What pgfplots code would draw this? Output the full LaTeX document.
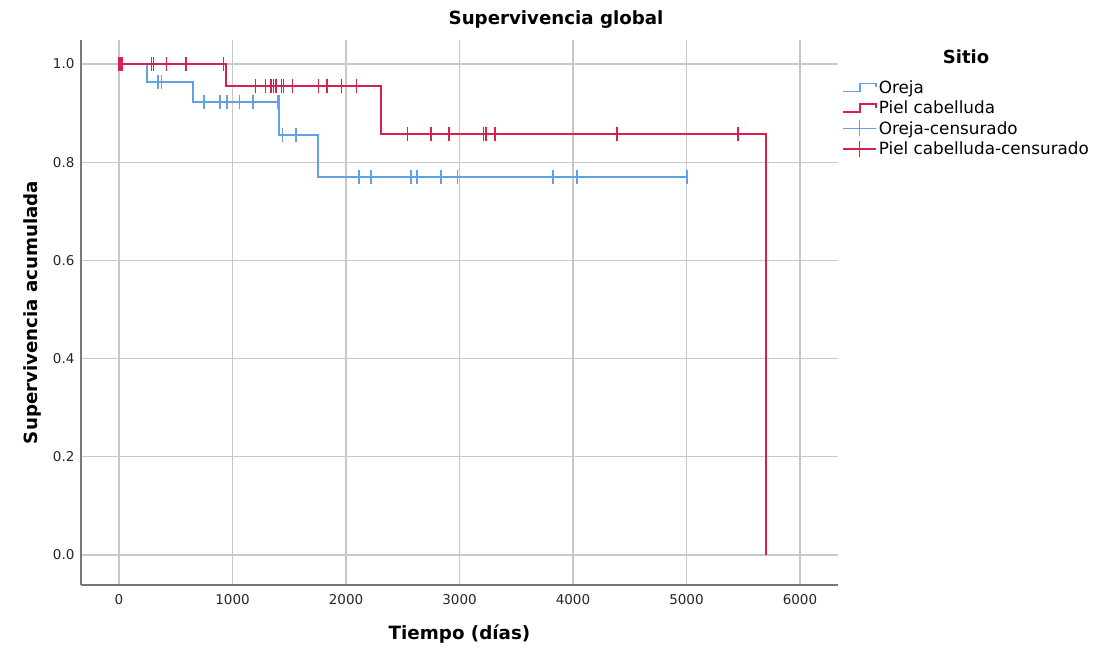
\documentclass[border=0pt]{standalone}
\usepackage{fontspec}
\setmainfont{DejaVu Sans}
\usepackage{pgfplots}
\pgfplotsset{compat=1.18}
\definecolor{oreja}{RGB}{100,160,228}
\definecolor{piel}{RGB}{216,34,76}
\definecolor{gridc}{RGB}{200,200,200}
\definecolor{axc}{RGB}{120,120,120}
\pgfplotsset{
  steplegend/.style={legend image code/.code={\draw[##1] (0pt,-4pt) -- (17pt,-4pt) -- (17pt,4pt) -- (33pt,4pt) -- (33pt,0pt);}},
  censlegend/.style={legend image code/.code={\draw[color=#1, line width=1.8pt] (0pt,0pt) -- (33pt,0pt); \draw[color=#1, line width=1.6pt] (16.5pt,-8pt) -- (16.5pt,8pt);}},
}
\begin{document}
\begin{tikzpicture}[x=1pt,y=1pt]
\path[use as bounding box] (0,0) rectangle (1099,650);
\begin{axis}[
  at={(81pt,65pt)}, anchor=south west,
  scale only axis, width=757pt, height=545pt,
  xmin=-335, xmax=6335, ymin=-0.0611, ymax=1.0489,
  axis x line*=bottom, axis y line*=left,
  axis line style={-, draw=axc, line width=1.4pt},
  xtick={0,1000,2000,3000,4000,5000,6000},
  ytick={0,0.2,0.4,0.6,0.8,1.0},
  major tick length=0pt,
  grid=major,
  major grid style={draw=gridc, line width=1.3pt},
  /pgf/number format/assume math mode=true,
  xticklabel style={font=\fontsize{13.5}{16}\selectfont, text=black!85, yshift=-6pt},
  yticklabel style={font=\fontsize{13.5}{16}\selectfont, text=black!85, xshift=-3pt,
     /pgf/number format/.cd, fixed, fixed zerofill, precision=1},
  x tick label style={/pgf/number format/.cd, 1000 sep={}},
  xlabel={Tiempo (días)},
  ylabel={Supervivencia acumulada},
  xlabel style={font=\bfseries\fontsize{18.3}{21}\selectfont, at={(axis description cs:0.5,-0.09)}, anchor=center},
  ylabel style={font=\bfseries\fontsize{18.2}{21}\selectfont, at={(axis description cs:-0.0647,0.5)}, anchor=center},
  legend style={at={(axis description cs:1.005,0.930)}, anchor=north west,
     draw=none, fill=none, font=\fontsize{16.8}{20}\selectfont,
     row sep=2.2pt, inner sep=0pt, cells={anchor=west}},
  legend cell align=left,
  clip=false,
]
% step curves
\addplot[const plot, color=oreja, line width=1.8pt, mark=none, steplegend]
  coordinates {(0,1) (244,0.963) (655,0.922) (1410,0.855) (1750,0.770) (5007,0.770)};
\addlegendentry{Oreja}
\addplot[const plot, color=piel, line width=1.8pt, mark=none, steplegend]
  coordinates {(0,1) (940,0.955) (2305,0.858) (5700,0)};
\addlegendentry{Piel cabelluda}
% censored marks
\addplot[only marks, color=oreja, mark=|, mark size=7pt, mark options={line width=1.6pt}, censlegend=oreja]
  coordinates {(345,0.963) (375,0.963)
    (749,0.922) (890,0.922) (949,0.922) (1060,0.922) (1183,0.922) (1395,0.922) (1410,0.922)
    (1439,0.855) (1559,0.855)
    (2117,0.770) (2218,0.770) (2573,0.770) (2623,0.770) (2837,0.770) (2981,0.770) (3826,0.770) (4033,0.770) (5007,0.770)};
\addlegendentry{Oreja-censurado}
\addplot[only marks, color=piel, mark=|, mark size=7pt, mark options={line width=1.6pt}, censlegend=piel]
  coordinates {(2,1) (15,1) (30,1) (285,1) (305,1) (420,1) (588,1) (919,1)
    (1204,0.955) (1292,0.955) (1339,0.955) (1360,0.955) (1383,0.955) (1433,0.955) (1448,0.955) (1527,0.955) (1756,0.955) (1835,0.955) (1962,0.955) (2094,0.955)
    (2543,0.858) (2749,0.858) (2907,0.858) (3210,0.858) (3233,0.858) (3313,0.858) (4390,0.858) (5456,0.858)};
\addlegendentry{Piel cabelluda-censurado}
\end{axis}
\node[font=\bfseries\fontsize{18.2}{21}\selectfont] at (556,630) {Supervivencia global};
\node[font=\bfseries\fontsize{18}{21}\selectfont] at (966,593) {Sitio};
\end{tikzpicture}
\end{document}
